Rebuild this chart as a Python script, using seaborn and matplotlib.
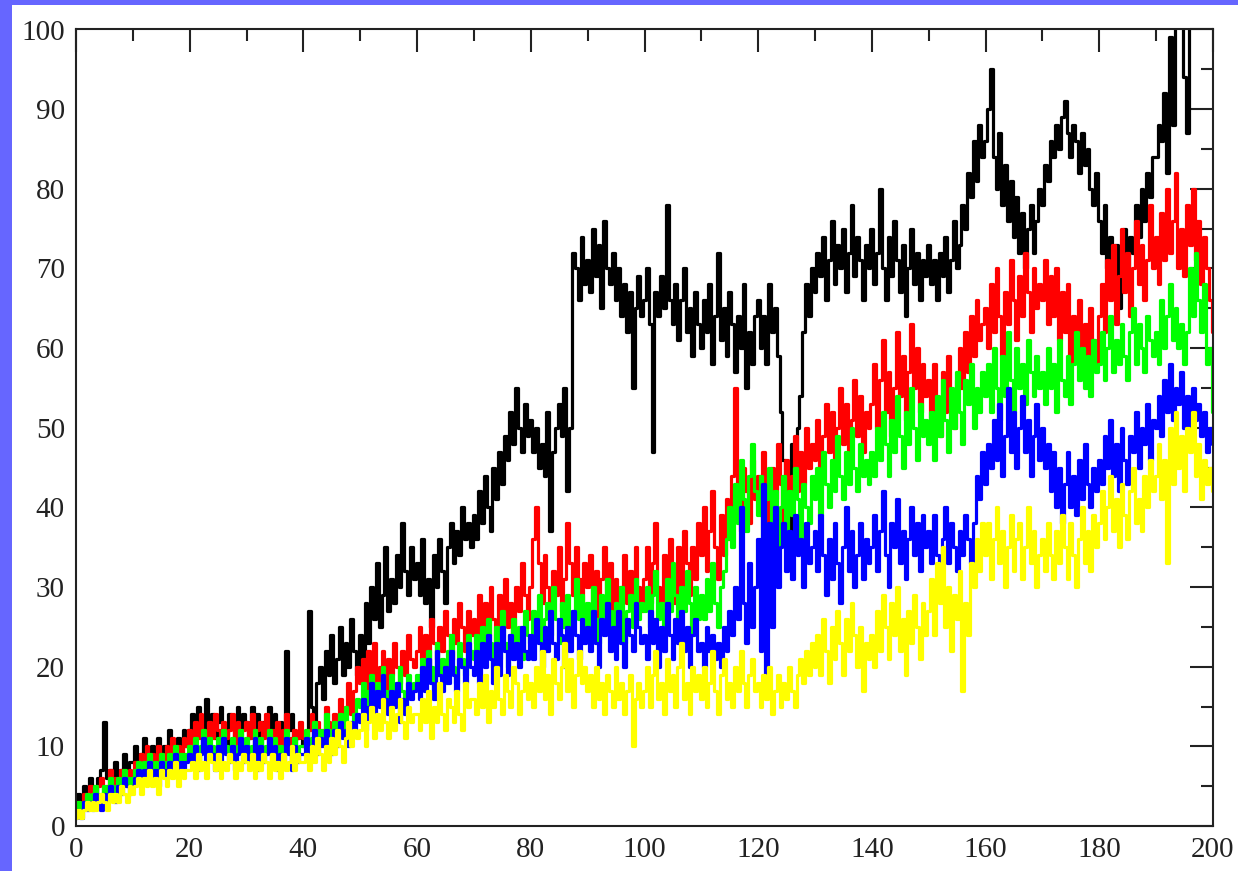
import matplotlib
matplotlib.use('Agg')
import matplotlib.pyplot as plt
from matplotlib.patches import Rectangle
import seaborn as sns
import pandas as pd
import numpy as np

# series sampled every 0.5 on x (0 .. 200)
x_step = 0.5
series_names = ['black', 'red', 'green', 'blue', 'yellow']
series_colors = ['#000000', '#ff0000', '#00ff00', '#0000ff', '#ffff00']

black = [
    2, 4, 3, 5, 4, 6, 5, 4, 6, 7, 13, 6, 7, 5, 8, 6, 7, 9, 6, 8,
    8, 10, 7, 9, 11, 8, 7, 10, 9, 11, 8, 10, 9, 12, 8, 10, 11, 9, 12, 10,
    12, 14, 11, 15, 13, 10, 16, 12, 14, 11, 13, 15, 12, 10, 14, 13, 11, 15, 12, 14,
    13, 11, 15, 12, 14, 10, 13, 12, 15, 11, 14, 12, 13, 11, 22, 12, 14, 10, 11, 12,
    10, 11, 27, 15, 12, 18, 20, 16, 22, 19, 24, 18, 21, 25, 19, 23, 20, 26, 22, 19,
    24, 21, 28, 23, 30, 26, 33, 25, 29, 35, 27, 31, 28, 34, 30, 38, 32, 29, 35, 31,
    33, 29, 36, 28, 31, 25, 34, 30, 36, 32, 28, 35, 38, 33, 37, 34, 40, 36, 38, 35,
    39, 36, 42, 38, 44, 40, 37, 45, 41, 47, 43, 49, 46, 52, 48, 55, 50, 47, 53, 49,
    51, 47, 50, 45, 48, 44, 52, 37, 47, 50, 53, 49, 55, 42, 50, 72, 70, 66, 74, 68,
    71, 67, 75, 69, 73, 65, 76, 70, 68, 72, 66, 70, 64, 68, 62, 67, 55, 65, 69, 64,
    66, 70, 63, 47, 67, 64, 69, 65, 78, 66, 63, 68, 61, 66, 70, 62, 65, 59, 67, 63,
    60, 66, 62, 68, 58, 64, 72, 61, 65, 59, 67, 63, 57, 64, 60, 68, 55, 62, 58, 64,
    66, 60, 64, 58, 68, 62, 65, 59, 52, 46, 42, 36, 48, 44, 50, 54, 62, 68, 64, 70,
    67, 72, 69, 74, 66, 71, 76, 68, 73, 70, 75, 67, 72, 78, 69, 74, 71, 66, 73, 70,
    75, 68, 72, 80, 70, 66, 74, 69, 76, 71, 67, 73, 64, 70, 75, 68, 72, 66, 71, 69,
    73, 68, 71, 66, 72, 69, 74, 67, 71, 76, 70, 73, 78, 75, 82, 79, 86, 81, 88, 84,
    86, 90, 95, 84, 80, 87, 78, 83, 76, 81, 74, 79, 72, 77, 70, 75, 78, 72, 76, 80,
    78, 83, 81, 86, 84, 88, 85, 89, 91, 87, 84, 88, 86, 82, 87, 83, 85, 80, 78, 82,
    76, 72, 78, 70, 74, 68, 73, 65, 71, 75, 69, 74, 72, 78, 74, 80, 76, 82, 79, 84,
    84, 88, 86, 92, 82, 99, 88, 104, 106, 103, 94, 87, 105, 108, 110, 107, 109, 106, 108, 110,
    108,
]

red = [
    2, 3, 2, 4, 3, 5, 4, 3, 5, 6, 4, 5, 7, 5, 6, 4, 7, 6, 5, 7,
    6, 8, 7, 9, 8, 10, 7, 9, 8, 10, 9, 8, 10, 9, 11, 8, 10, 9, 11, 10,
    12, 10, 13, 11, 14, 12, 10, 13, 11, 14, 12, 10, 13, 11, 12, 14, 10, 13, 11, 12,
    13, 11, 14, 10, 12, 13, 11, 14, 10, 12, 11, 13, 10, 12, 14, 11, 10, 12, 11, 13,
    11, 10, 12, 14, 11, 13, 10, 12, 15, 13, 11, 14, 12, 16, 13, 15, 18, 14, 17, 20,
    18, 21, 17, 22, 19, 23, 18, 20, 22, 17, 21, 19, 23, 20, 18, 22, 19, 24, 21, 20,
    22, 25, 21, 24, 20, 26, 23, 21, 25, 22, 27, 24, 21, 26, 23, 28, 25, 22, 27, 24,
    26, 23, 29, 25, 28, 24, 30, 26, 23, 29, 27, 31, 25, 28, 24, 30, 27, 33, 29, 26,
    30, 36, 40, 33, 28, 34, 30, 26, 32, 29, 35, 27, 31, 38, 33, 29, 35, 31, 27, 33,
    30, 34, 28, 32, 26, 31, 35, 29, 33, 27, 31, 25, 30, 34, 28, 32, 29, 35, 30, 27,
    31, 35, 28, 33, 38, 30, 27, 34, 29, 36, 32, 28, 35, 30, 37, 33, 29, 35, 31, 38,
    34, 40, 32, 37, 42, 35, 31, 39, 34, 41, 36, 44, 55, 40, 37, 45, 42, 38, 46, 41,
    44, 39, 47, 42, 37, 45, 41, 48, 43, 38, 46, 40, 44, 49, 42, 47, 43, 50, 45, 48,
    46, 51, 44, 49, 53, 47, 52, 45, 50, 55, 48, 53, 46, 51, 56, 49, 54, 47, 52, 50,
    53, 58, 50, 56, 61, 52, 57, 49, 55, 62, 54, 59, 51, 57, 63, 55, 60, 52, 58, 54,
    56, 51, 58, 53, 49, 57, 52, 59, 54, 50, 56, 60, 55, 62, 57, 64, 59, 66, 61, 63,
    65, 60, 68, 62, 70, 64, 59, 67, 63, 71, 66, 61, 69, 64, 72, 67, 62, 70, 65, 68,
    66, 71, 63, 69, 64, 70, 61, 67, 62, 68, 58, 64, 60, 66, 57, 63, 59, 65, 61, 58,
    64, 68, 62, 71, 66, 73, 63, 69, 75, 67, 72, 64, 70, 76, 68, 73, 66, 71, 78, 70,
    74, 68, 77, 71, 80, 72, 76, 82, 70, 75, 69, 78, 73, 80, 71, 76, 68, 74, 70, 66,
    62,
]

green = [
    2, 3, 2, 3, 4, 3, 4, 5, 3, 4, 5, 4, 6, 5, 4, 6, 5, 7, 6, 5,
    6, 7, 8, 6, 8, 7, 9, 7, 8, 6, 9, 8, 7, 9, 8, 10, 7, 9, 8, 9,
    10, 9, 11, 8, 10, 12, 9, 11, 10, 8, 11, 9, 12, 10, 9, 11, 8, 10, 12, 9,
    11, 9, 10, 12, 8, 11, 9, 10, 12, 9, 11, 8, 10, 9, 12, 10, 8, 11, 9, 10,
    10, 12, 9, 11, 13, 10, 12, 11, 14, 12, 10, 13, 11, 14, 12, 15, 13, 11, 14, 16,
    15, 18, 14, 17, 19, 15, 18, 16, 20, 17, 15, 19, 16, 18, 20, 17, 15, 19, 17, 18,
    19, 17, 21, 18, 22, 20, 17, 23, 19, 21, 18, 22, 24, 20, 18, 23, 21, 19, 24, 22,
    21, 24, 20, 25, 22, 26, 23, 20, 25, 21, 27, 23, 20, 24, 26, 22, 25, 21, 27, 24,
    23, 27, 25, 29, 22, 26, 28, 24, 30, 26, 23, 28, 25, 29, 24, 27, 31, 26, 29, 25,
    28, 24, 30, 26, 23, 29, 25, 31, 27, 24, 28, 26, 30, 23, 27, 29, 25, 31, 26, 28,
    27, 30, 25, 29, 32, 26, 28, 24, 31, 27, 33, 29, 25, 30, 27, 32, 28, 24, 30, 26,
    29, 26, 31, 27, 33, 28, 25, 30, 32, 36, 40, 35, 43, 38, 46, 41, 37, 44, 48, 42,
    39, 44, 36, 41, 45, 38, 42, 35, 40, 44, 37, 42, 39, 45, 41, 36, 43, 40, 38, 44,
    41, 45, 39, 47, 43, 40, 46, 42, 49, 44, 41, 47, 43, 50, 45, 42, 48, 44, 46, 43,
    47, 44, 50, 46, 52, 48, 44, 51, 47, 54, 49, 45, 52, 48, 55, 50, 46, 53, 49, 51,
    48, 52, 46, 54, 49, 56, 51, 47, 55, 50, 57, 52, 48, 56, 53, 58, 50, 55, 52, 57,
    54, 58, 52, 60, 55, 51, 59, 54, 62, 56, 52, 60, 55, 58, 53, 61, 57, 54, 59, 55,
    57, 53, 60, 55, 58, 52, 61, 56, 54, 59, 53, 58, 62, 56, 60, 55, 59, 54, 61, 57,
    58, 62, 56, 60, 64, 57, 61, 58, 63, 59, 56, 62, 65, 58, 63, 60, 57, 64, 61, 59,
    62, 58, 66, 60, 64, 68, 61, 65, 60, 63, 58, 62, 70, 64, 72, 66, 62, 68, 58, 60,
    52,
]

blue = [
    1, 2, 1, 3, 2, 3, 2, 4, 3, 2, 4, 3, 5, 4, 3, 5, 4, 6, 5, 4,
    5, 6, 7, 5, 7, 6, 8, 6, 7, 5, 8, 7, 6, 8, 7, 9, 6, 8, 7, 8,
    9, 8, 10, 7, 9, 11, 8, 10, 9, 7, 10, 8, 11, 9, 8, 10, 7, 9, 11, 8,
    10, 8, 9, 11, 7, 10, 8, 9, 11, 8, 10, 7, 9, 8, 11, 9, 7, 10, 8, 9,
    9, 11, 8, 10, 12, 9, 11, 10, 12, 10, 9, 12, 10, 13, 11, 12, 10, 13, 12, 14,
    13, 16, 12, 15, 18, 14, 17, 15, 19, 16, 14, 17, 15, 18, 13, 16, 14, 18, 16, 17,
    18, 16, 20, 17, 21, 18, 16, 22, 19, 17, 20, 18, 22, 19, 17, 21, 20, 18, 23, 20,
    19, 22, 18, 23, 20, 24, 21, 18, 23, 19, 25, 22, 19, 24, 21, 23, 20, 25, 22, 21,
    24, 21, 26, 23, 20, 25, 22, 27, 23, 21, 26, 24, 20, 25, 22, 27, 24, 21, 26, 23,
    25, 22, 27, 23, 20, 26, 24, 28, 22, 25, 21, 27, 23, 20, 26, 24, 22, 28, 25, 23,
    24, 21, 27, 23, 26, 20, 25, 22, 28, 24, 21, 26, 23, 27, 22, 25, 20, 24, 26, 22,
    23, 20, 25, 22, 24, 21, 23, 20, 25, 22, 27, 24, 30, 26, 40, 28, 23, 33, 25, 30,
    36, 22, 43, 18, 38, 25, 40, 30, 35, 38, 32, 37, 31, 39, 34, 36, 30, 38, 33, 35,
    37, 32, 39, 34, 29, 36, 31, 38, 33, 28, 35, 40, 32, 37, 30, 34, 38, 31, 36, 33,
    35, 39, 32, 37, 42, 34, 30, 38, 35, 41, 33, 37, 31, 36, 40, 34, 38, 32, 39, 35,
    37, 33, 39, 34, 31, 36, 40, 33, 38, 35, 32, 37, 34, 39, 36, 33, 38, 44, 41, 47,
    43, 48, 45, 51, 46, 53, 44, 49, 55, 47, 52, 45, 50, 54, 47, 51, 44, 49, 53, 46,
    50, 45, 48, 42, 47, 40, 45, 38, 43, 47, 40, 44, 39, 46, 41, 48, 43, 40, 45, 42,
    46, 43, 49, 45, 51, 44, 48, 42, 50, 46, 43, 49, 47, 52, 45, 50, 48, 53, 46, 51,
    50, 54, 49, 56, 52, 58, 51, 55, 53, 57, 50, 54, 48, 55, 51, 53, 49, 52, 47, 50,
    48,
]

yellow = [
    1, 2, 1, 2, 3, 2, 3, 2, 3, 4, 3, 2, 4, 3, 4, 3, 5, 4, 3, 5,
    4, 5, 6, 4, 6, 5, 7, 5, 6, 4, 7, 6, 5, 7, 6, 8, 5, 7, 6, 7,
    7, 8, 6, 9, 7, 8, 6, 9, 8, 7, 9, 6, 8, 7, 9, 8, 6, 8, 7, 9,
    8, 7, 9, 6, 8, 7, 9, 8, 6, 9, 7, 8, 6, 9, 7, 8, 10, 7, 9, 8,
    8, 9, 7, 10, 8, 11, 9, 7, 10, 8, 11, 9, 12, 10, 8, 11, 13, 10, 12, 11,
    12, 14, 10, 13, 15, 11, 14, 12, 16, 13, 11, 15, 12, 14, 16, 13, 11, 15, 13, 14,
    14, 12, 16, 13, 17, 11, 15, 13, 18, 14, 12, 16, 15, 13, 17, 14, 12, 18, 15, 16,
    16, 14, 18, 15, 19, 13, 17, 15, 20, 16, 14, 19, 17, 15, 20, 18, 14, 17, 19, 16,
    18, 15, 20, 17, 22, 16, 19, 14, 21, 18, 16, 20, 23, 17, 21, 15, 19, 22, 18, 20,
    17, 19, 15, 20, 16, 18, 14, 19, 17, 15, 20, 16, 18, 14, 17, 19, 10, 16, 18, 15,
    17, 20, 15, 19, 22, 16, 18, 14, 21, 17, 19, 15, 20, 23, 16, 18, 14, 20, 17, 19,
    16, 20, 15, 18, 22, 17, 14, 19, 21, 16, 18, 15, 20, 17, 22, 18, 15, 19, 21, 17,
    18, 15, 19, 16, 20, 14, 17, 19, 15, 18, 16, 20, 17, 15, 19, 21, 18, 22, 19, 23,
    20, 24, 19, 26, 22, 18, 25, 21, 27, 23, 19, 26, 22, 28, 24, 20, 25, 17, 23, 21,
    24, 20, 27, 22, 29, 25, 21, 28, 24, 30, 22, 26, 19, 27, 23, 29, 25, 21, 28, 24,
    27, 31, 24, 33, 28, 35, 25, 30, 22, 29, 26, 32, 17, 28, 24, 33, 30, 36, 32, 38,
    34, 38, 31, 36, 40, 33, 37, 30, 35, 39, 32, 36, 38, 31, 35, 40, 33, 37, 30, 34,
    36, 32, 38, 34, 31, 37, 33, 39, 35, 31, 38, 34, 30, 36, 40, 33, 37, 32, 39, 35,
    38, 42, 36, 40, 44, 37, 41, 35, 43, 39, 36, 42, 45, 38, 41, 37, 44, 40, 46, 42,
    44, 48, 41, 46, 33, 50, 43, 52, 45, 49, 42, 50, 47, 52, 44, 48, 41, 46, 43, 45,
    42,
]

x_ticks = [0, 20, 40, 60, 80, 100, 120, 140, 160, 180, 200]
y_ticks = [0, 10, 20, 30, 40, 50, 60, 70, 80, 90, 100]

frames = []
for name, vals in zip(series_names, [black, red, green, blue, yellow]):
    frames.append(pd.DataFrame({'x': np.arange(len(vals)) * x_step,
                                'y': vals, 'series': name}))
df = pd.concat(frames, ignore_index=True)

sns.set_style('white')
plt.rcParams['font.family'] = ['Liberation Serif', 'DejaVu Serif']

fig = plt.figure(figsize=(12.38, 8.71), dpi=100, facecolor='#6666ff')
# white slide area behind the chart
bg = fig.add_axes([12 / 1238, 0, 1 - 12 / 1238, 866 / 871], zorder=-5)
bg.set_facecolor('white')
bg.set_axis_off()
bg.add_patch(Rectangle((0, 0), 1, 1, transform=bg.transAxes,
                       facecolor='white', edgecolor='none'))

ax = fig.add_axes([76 / 1238, 45 / 871, 1137 / 1238, 796.5 / 871], zorder=1)

sns.lineplot(data=df, x='x', y='y', hue='series', hue_order=series_names,
             palette=series_colors, estimator=None, legend=False,
             drawstyle='steps-mid', linewidth=2.3, ax=ax)

ax.set_xlim(0, 200)
ax.set_ylim(0, 100)
ax.set_xticks(x_ticks)
ax.set_yticks(y_ticks)
ax.set_xticks(np.arange(10, 200, 20), minor=True)
ax.set_yticks(np.arange(5, 100, 10), minor=True)
ax.set_xlabel('')
ax.set_ylabel('')
ax.tick_params(which='both', direction='in', top=True, right=True,
               color='#222222', width=1.5, labelsize=21, pad=8,
               labelcolor='#222222')
ax.tick_params(which='major', length=16.5)
ax.tick_params(which='minor', length=8.5)
for s in ax.spines.values():
    s.set_visible(True)
    s.set_color('#222222')
    s.set_linewidth(1.5)

fig.savefig('out.png', dpi=100, facecolor=fig.get_facecolor())
